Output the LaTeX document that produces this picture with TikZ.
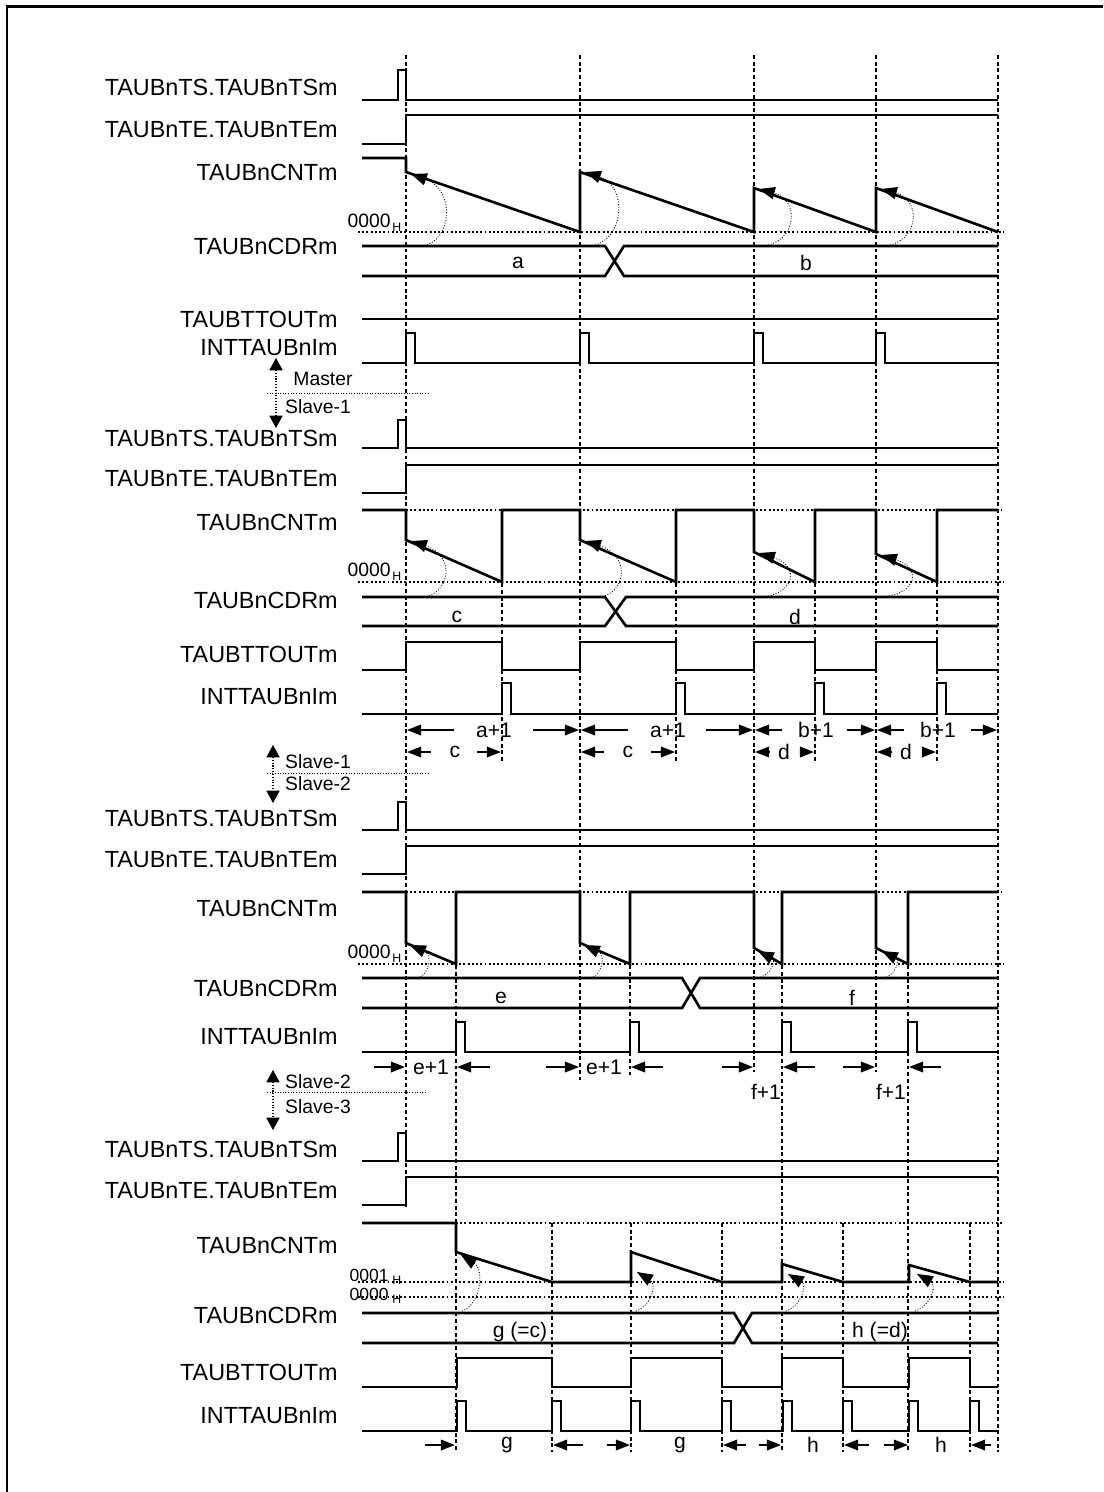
\documentclass[tikz,border=0pt]{standalone}
\usepackage{fontspec}
\setmainfont{Liberation Sans}
\usetikzlibrary{arrows.meta}

\begin{document}
\begin{tikzpicture}[x=0.02cm, y=-0.02cm,
		>={Triangle[length=8pt,width=6pt]},
		segnale/.style={line width=1.5pt, line join=miter},
		griglia/.style={line width=0.6pt, dash pattern=on 2.2pt off 1.6pt},
		livello/.style={line width=1.1pt, dash pattern=on 1.1pt off 1.3pt},
		arco/.style={line width=0.5pt, densely dotted,
			-{Triangle[length=9pt,width=7pt]}},
		quota/.style={line width=1pt, ->},
		sep/.style={line width=0.5pt, densely dotted},
		sepfr/.style={line width=0.6pt, densely dotted,
			{Triangle[length=7pt,width=7.5pt]}-{Triangle[length=7pt,width=7.5pt]}},
		nome/.style={anchor=east, inner sep=0pt, font=\fontsize{13.3}{15}\selectfont},
		lab/.style={inner sep=0pt, font=\fontsize{12}{14}\selectfont},
		piccolo/.style={inner sep=0pt, font=\fontsize{11}{13}\selectfont},
		cifre/.style={inner sep=0pt, font=\fontsize{11}{13}\selectfont},
		pedice/.style={inner sep=0pt, font=\fontsize{7}{8}\selectfont}]
	\useasboundingbox (0,0) rectangle (1103,1492);
	
	%% cornice
	\draw[line width=1.7pt] (1103,6) -- (7,6) -- (7,1492);
	
	%% griglia verticale
	\draw[griglia] (406,55) -- (406,1210);
	\draw[griglia] (580,55) -- (580,1080);
	\foreach \x in {754,876} \draw[griglia] (\x,55) -- (\x,1072);
	\draw[griglia] (998,55) -- (998,1452);
	\foreach \x in {502,676,815,937} \draw[griglia] (\x,510) -- (\x,762);
	\foreach \x in {456,782,908} \draw[griglia] (\x,892) -- (\x,1452);
	\draw[griglia] (630,892) -- (630,1075);
	\foreach \x in {552,631,722,843,970} \draw[griglia] (\x,1223) -- (\x,1452);
	
	%% ---------------- Master ----------------
	\node[nome] (tsM) at (338,87) {TAUBnTS.TAUBnTSm};
	\node[nome] (teM) at (338,130) {TAUBnTE.TAUBnTEm};
	\node[nome] (cntM) at (338,172) {TAUBnCNTm};
	\node[nome] (cdrM) at (338,246) {TAUBnCDRm};
	\node[nome] (ttM) at (338,319) {TAUBTTOUTm};
	\node[nome] (intM) at (338,348) {INTTAUBnIm};
	
	\draw[segnale] (362,100) -- (398,100) -- (398,70) -- (406,70) -- (406,100) -- (998,100);
	\draw[segnale] (362,144) -- (406,144) -- (406,115) -- (998,115);
	\draw[livello] (358,232) -- (1004,232);
	\node[cifre, anchor=east] (zM) at (391,221) {0000};
	\node[pedice, anchor=west] (zMh) at (392,227) {H};
	\draw[segnale] (362,158) -- (406,158) -- (406,172) -- (580,232) -- (580,172)
		-- (754,232) -- (754,188) -- (876,232) -- (876,188) -- (998,232);
	\draw[arco] (422,246) .. controls (452,242) and (456,190) .. (411,174);
	\draw[arco] (590,246) .. controls (625,242) and (628,186) .. (585,172);
	\draw[arco] (763,246) .. controls (797,242) and (800,200) .. (759,189);
	\draw[arco] (885,246) .. controls (919,242) and (922,200) .. (881,189);
	\draw[segnale] (362,246) -- (605,246) -- (624,276) -- (998,276);
	\draw[segnale] (362,276) -- (605,276) -- (624,246) -- (998,246);
	\node[lab] (cdrA) at (518,263) {a};
	\node[lab] (cdrB) at (806,263) {b};
	\draw[segnale] (362,319) -- (998,319);
	\draw[segnale] (362,363) \foreach \p in {406,580,754,876} {
		-- (\p,363) -- (\p,333) -- (\p+9,333) -- (\p+9,363)} -- (998,363);
	
	%% Master / Slave-1
	\draw[sepfr] (276,358) -- (276,428);
	\draw[sep] (267,393) -- (429,393);
	\node[piccolo] (lM) at (323,379) {Master};
	\node[piccolo] (lS1) at (318,407) {Slave-1};
	
	%% ---------------- Slave-1 ----------------
	\node[nome] (tsA) at (338,438) {TAUBnTS.TAUBnTSm};
	\node[nome] (teA) at (338,479) {TAUBnTE.TAUBnTEm};
	\node[nome] (cntA) at (338,522) {TAUBnCNTm};
	\node[nome] (cdrA1) at (338,600) {TAUBnCDRm};
	\node[nome] (ttA) at (338,654) {TAUBTTOUTm};
	\node[nome] (intA) at (338,697) {INTTAUBnIm};
	
	\draw[segnale] (362,448) -- (398,448) -- (398,420) -- (406,420) -- (406,448) -- (998,448);
	\draw[segnale] (362,493) -- (406,493) -- (406,465) -- (998,465);
	\draw[livello] (406,510) -- (1004,510);
	\draw[livello] (358,582) -- (1004,582);
	\node[cifre, anchor=east] (zA) at (391,570) {0000};
	\node[pedice, anchor=west] (zAh) at (392,576) {H};
	\draw[segnale] (362,510) -- (406,510) -- (406,540) -- (502,582) -- (502,510) -- (580,510)
		-- (580,540) -- (676,582) -- (676,510) -- (754,510) -- (754,552) -- (815,582)
		-- (815,510) -- (876,510) -- (876,554) -- (937,582) -- (937,510) -- (998,510);
	\draw[arco] (424,597) .. controls (450,593) and (456,556) .. (411,541);
	\draw[arco] (600,597) .. controls (626,593) and (631,556) .. (585,541);
	\draw[arco] (763,597) .. controls (795,593) and (800,566) .. (759,553);
	\draw[arco] (884,597) .. controls (917,593) and (922,568) .. (881,555);
	\draw[segnale] (362,597) -- (605,597) -- (626,626) -- (998,626);
	\draw[segnale] (362,626) -- (605,626) -- (626,597) -- (998,597);
	\node[lab] (cdrC) at (457,617) {c};
	\node[lab] (cdrD) at (795,617) {d};
	\draw[segnale] (362,670) -- (406,670) -- (406,642) -- (502,642) -- (502,670) -- (580,670)
		-- (580,642) -- (676,642) -- (676,670) -- (754,670) -- (754,642) -- (815,642)
		-- (815,670) -- (876,670) -- (876,642) -- (937,642) -- (937,670) -- (998,670);
	\draw[segnale] (362,714) \foreach \p in {502,676,815,937} {
		-- (\p,714) -- (\p,683) -- (\p+9,683) -- (\p+9,714)} -- (998,714);
	
	%% quote a+1, b+1, c, d
	\node[lab] (qa1) at (494,730) {a+1};
	\draw[quota] (454,730) -- (407,730); \draw[quota] (533,730) -- (579,730);
	\node[lab] (qa2) at (668,730) {a+1};
	\draw[quota] (628,730) -- (581,730); \draw[quota] (706,730) -- (753,730);
	\node[lab] (qb1) at (816,730) {b+1};
	\draw[quota] (782,730) -- (755,730); \draw[quota] (847,730) -- (875,730);
	\node[lab] (qb2) at (938,730) {b+1};
	\draw[quota] (904,730) -- (877,730); \draw[quota] (971,730) -- (997,730);
	\node[lab] (qc1) at (455,752) {c};
	\draw[quota] (431,752) -- (407,752); \draw[quota] (477,752) -- (501,752);
	\node[lab] (qc2) at (628,752) {c};
	\draw[quota] (604,752) -- (581,752); \draw[quota] (651,752) -- (675,752);
	\node[lab] (qd1) at (784,752) {d};
	\draw[quota] (769,752) -- (755,752); \draw[quota] (800,752) -- (814,752);
	\node[lab] (qd2) at (906,752) {d};
	\draw[quota] (891,752) -- (877,752); \draw[quota] (922,752) -- (936,752);
	
	%% Slave-1 / Slave-2
	\draw[sepfr] (273,745) -- (273,803);
	\draw[sep] (267,773) -- (429,773);
	\node[piccolo] (lS1b) at (318,762) {Slave-1};
	\node[piccolo] (lS2) at (318,784) {Slave-2};
	
	%% ---------------- Slave-2 ----------------
	\node[nome] (tsB) at (338,818) {TAUBnTS.TAUBnTSm};
	\node[nome] (teB) at (338,860) {TAUBnTE.TAUBnTEm};
	\node[nome] (cntB) at (338,908) {TAUBnCNTm};
	\node[nome] (cdrB1) at (338,988) {TAUBnCDRm};
	\node[nome] (intB) at (338,1037) {INTTAUBnIm};
	
	\draw[segnale] (362,830) -- (398,830) -- (398,802) -- (406,802) -- (406,830) -- (998,830);
	\draw[segnale] (362,874) -- (406,874) -- (406,846) -- (998,846);
	\draw[livello] (406,892) -- (1004,892);
	\draw[livello] (358,964) -- (1004,964);
	\node[cifre, anchor=east] (zB) at (391,952) {0000};
	\node[pedice, anchor=west] (zBh) at (392,958) {H};
	\draw[segnale] (362,892) -- (406,892) -- (406,943) -- (456,964) -- (456,892) -- (580,892)
		-- (580,943) -- (630,964) -- (630,892) -- (754,892) -- (754,948) -- (782,964)
		-- (782,892) -- (876,892) -- (876,948) -- (908,964) -- (908,892) -- (998,892);
	\draw[arco] (418,978) .. controls (429,975) and (433,955) .. (410,945);
	\draw[arco] (591,978) .. controls (602,975) and (606,955) .. (584,945);
	\draw[arco] (758,978) .. controls (772,975) and (776,960) .. (758,951);
	\draw[arco] (884,978) .. controls (896,975) and (900,960) .. (882,951);
	\draw[segnale] (362,978) -- (682,978) -- (700,1008) -- (998,1008);
	\draw[segnale] (362,1008) -- (682,1008) -- (700,978) -- (998,978);
	\node[lab] (cdrE) at (501,998) {e};
	\node[lab] (cdrF) at (852,998) {f};
	\draw[segnale] (362,1052) \foreach \p in {456,630,782,908} {
		-- (\p,1052) -- (\p,1022) -- (\p+9,1022) -- (\p+9,1052)} -- (998,1052);
	
	%% quote e+1, f+1
	\node[lab] (qe1) at (431,1067) {e+1};
	\draw[quota] (374,1067) -- (405,1067); \draw[quota] (490,1067) -- (457,1067);
	\node[lab] (qe2) at (604,1067) {e+1};
	\draw[quota] (546,1067) -- (579,1067); \draw[quota] (663,1067) -- (631,1067);
	\node[lab] (qf1) at (766,1092) {f+1};
	\draw[quota] (722,1067) -- (753,1067); \draw[quota] (815,1067) -- (783,1067);
	\node[lab] (qf2) at (891,1092) {f+1};
	\draw[quota] (843,1067) -- (875,1067); \draw[quota] (941,1067) -- (909,1067);
	
	%% Slave-2 / Slave-3
	\draw[sepfr] (273,1070) -- (273,1130);
	\draw[sep] (267,1092) -- (427,1092);
	\node[piccolo] (lS2b) at (318,1082) {Slave-2};
	\node[piccolo] (lS3) at (318,1107) {Slave-3};
	
	%% ---------------- Slave-3 ----------------
	\node[nome] (tsC) at (338,1149) {TAUBnTS.TAUBnTSm};
	\node[nome] (teC) at (338,1191) {TAUBnTE.TAUBnTEm};
	\node[nome] (cntC) at (338,1245) {TAUBnCNTm};
	\node[nome] (cdrC1) at (338,1315) {TAUBnCDRm};
	\node[nome] (ttC) at (338,1372) {TAUBTTOUTm};
	\node[nome] (intC) at (338,1416) {INTTAUBnIm};
	
	\draw[segnale] (362,1161) -- (398,1161) -- (398,1133) -- (406,1133) -- (406,1161) -- (998,1161);
	\draw[segnale] (362,1205) -- (406,1205) -- (406,1177) -- (998,1177);
	\draw[livello] (456,1223) -- (1004,1223);
	\draw[livello] (358,1282) -- (1004,1282);
	\draw[livello] (358,1297) -- (1004,1297);
	\node[cifre, anchor=east, font=\fontsize{10}{12}\selectfont] (z1C) at (389,1275) {0001};
	\node[pedice, anchor=west] (z1Ch) at (392,1280) {H};
	\node[cifre, anchor=east, font=\fontsize{10}{12}\selectfont] (z0C) at (389,1294) {0000};
	\node[pedice, anchor=west] (z0Ch) at (392,1299) {H};
	\draw[segnale] (362,1223) -- (456,1223) -- (456,1252) -- (552,1282) -- (631,1282)
		-- (631,1252) -- (722,1282) -- (782,1282) -- (782,1264) -- (843,1282)
		-- (909,1282) -- (909,1265) -- (970,1282) -- (998,1282);
	\draw[arco] (462,1311) .. controls (480,1305) and (485,1270) .. (461,1255);
	\draw[arco] (636,1311) .. controls (652,1305) and (657,1284) .. (637,1272);
	\draw[arco] (786,1311) .. controls (802,1305) and (807,1285) .. (788,1274);
	\draw[arco] (915,1311) .. controls (932,1305) and (937,1285) .. (917,1274);
	\draw[segnale] (362,1313) -- (734,1313) -- (752,1343) -- (998,1343);
	\draw[segnale] (362,1343) -- (734,1343) -- (752,1313) -- (998,1313);
	\node[lab] (cdrG) at (520,1332) {g (=c)};
	\node[lab] (cdrH) at (880,1332) {h (=d)};
	\draw[segnale] (362,1387) -- (457,1387) -- (457,1358) -- (552,1358) -- (552,1387) -- (631,1387)
		-- (631,1358) -- (722,1358) -- (722,1387) -- (782,1387) -- (782,1358) -- (843,1358)
		-- (843,1387) -- (909,1387) -- (909,1358) -- (970,1358) -- (970,1387) -- (998,1387);
	\draw[segnale] (362,1431) \foreach \p in {457,552,631,722,783,843,909,970} {
		-- (\p,1431) -- (\p,1401) -- (\p+9,1401) -- (\p+9,1431)} -- (998,1431);
	
	%% quote g, h
	\node[lab] (qg1) at (507,1445) {g};
	\draw[quota] (425,1445) -- (455,1445); \draw[quota] (583,1445) -- (553,1445);
	\node[lab] (qg2) at (680,1445) {g};
	\draw[quota] (607,1445) -- (630,1445); \draw[quota] (746,1445) -- (723,1445);
	\node[lab] (qh1) at (813,1445) {h};
	\draw[quota] (759,1445) -- (781,1445); \draw[quota] (869,1445) -- (844,1445);
	\node[lab] (qh2) at (941,1445) {h};
	\draw[quota] (884,1445) -- (908,1445); \draw[quota] (991,1445) -- (971,1445);
\end{tikzpicture}
\end{document}
